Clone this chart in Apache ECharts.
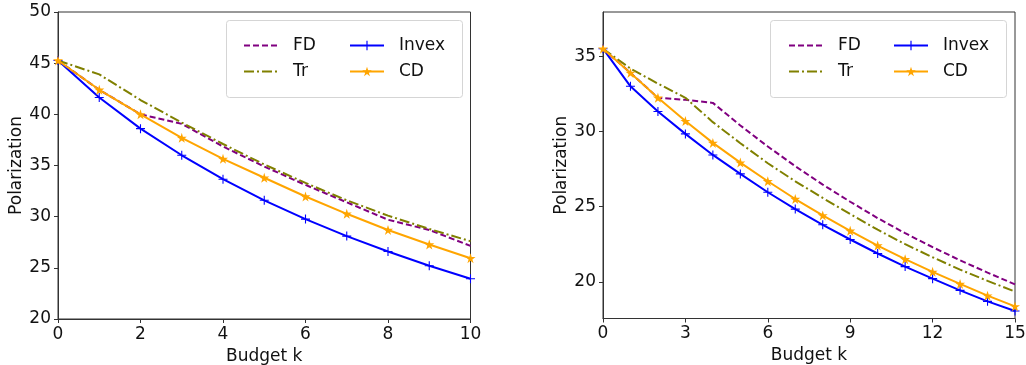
<!DOCTYPE html>
<html><head><meta charset="utf-8">
<script src="https://cdn.jsdelivr.net/npm/echarts@6/dist/echarts.min.js"></script>
<style>html,body{margin:0;padding:0;background:#fff}#c{width:1026px;height:365px}</style>
</head><body><div id="c"></div>
<script>
// Left panel data
const kLeft = [0,1,2,3,4,5,6,7,8,9,10];
const fdLeft = [45.26,42.4,40.0,39.07,36.86,34.9,33.1,31.4,29.7,28.7,27.15];
const trLeft = [45.26,43.9,41.4,39.2,37.1,35.1,33.3,31.6,30.1,28.8,27.6];
const invexLeft = [45.26,41.65,38.6,36.0,33.66,31.6,29.76,28.1,26.6,25.2,23.93];
const cdLeft = [45.26,42.4,40.0,37.7,35.65,33.8,31.97,30.28,28.7,27.28,25.94];
// Right panel data
const kRight = [0,1,2,3,4,5,6,7,8,9,10,11,12,13,14,15];
const fdRight = [35.5,33.89,32.24,32.1,31.9,30.4,29.0,27.69,26.47,25.33,24.24,23.24,22.31,21.44,20.62,19.84];
const trRight = [35.5,34.18,33.18,32.24,30.62,29.22,27.89,26.69,25.58,24.51,23.47,22.51,21.64,20.82,20.07,19.36];
const invexRight = [35.5,33.0,31.33,29.84,28.44,27.18,25.96,24.84,23.8,22.82,21.89,21.02,20.22,19.44,18.71,18.07];
const cdRight = [35.5,33.89,32.24,30.69,29.24,27.93,26.69,25.51,24.42,23.4,22.42,21.51,20.67,19.87,19.09,18.38];
// Ticks
const leftXTicks = {min:0, max:10, interval:2};
const leftYTicks = {min:20, max:50, interval:5};
const rightXTicks = {min:0, max:15, interval:3};
const rightYRange = {min:17.57, max:37.94};
const rightYTickValues = [20,25,30,35];

const FONT = 'DejaVu Sans';
const C = {FD:'#800080', Tr:'#808000', Invex:'#0000ff', CD:'#ffa500'};
const plusPath = 'path://M-0.12,-1H0.12V1H-0.12Z M-1,-0.12H1V0.12H-1Z';
const starPath = 'path://M0,-1 L0.2245,-0.309 L0.951,-0.309 L0.363,0.118 L0.588,0.809 L0,0.382 L-0.588,0.809 L-0.363,0.118 L-0.951,-0.309 L-0.2245,-0.309 Z';
const noMark = 'path://M0,0L0.001,0L0,0.001Z';

function pairs(xs, ys){ return xs.map((x,i)=>[x, ys[i]]); }

function mkSeries(name, xs, ys, idx){
  const base = {name, type:'line', xAxisIndex:idx, yAxisIndex:idx, data:pairs(xs,ys),
    animation:false, silent:true, color:C[name], z: 2};
  if(name==='FD') return Object.assign(base,{symbol:noMark, symbolSize:0.01, showSymbol:false, itemStyle:{color:'rgba(0,0,0,0)'}, lineStyle:{width:2,color:C.FD,type:[6,3]}});
  if(name==='Tr') return Object.assign(base,{symbol:noMark, symbolSize:0.01, showSymbol:false, itemStyle:{color:'rgba(0,0,0,0)'}, lineStyle:{width:2,color:C.Tr,type:[10,3,2,3]}});
  if(name==='Invex') return Object.assign(base,{symbol:plusPath, symbolSize:9, itemStyle:{color:C.Invex}, lineStyle:{width:2,color:C.Invex}, z:3});
  return Object.assign(base,{symbol:starPath, symbolSize:10, itemStyle:{color:C.CD}, lineStyle:{width:2,color:C.CD}, z:4});
}

const axisLineStyle = {show:true, lineStyle:{color:'#333', width:1}};
const tickStyle = {show:true, inside:false, length:4, lineStyle:{color:'#333', width:1}};
const labelStyle = {color:'#111', fontFamily:FONT, fontSize:17, margin:7};
const nameStyle = {color:'#111', fontFamily:FONT, fontSize:17};

function xAxis(idx, t){
  return {type:'value', gridIndex:idx, min:t.min, max:t.max, interval:t.interval,
    axisLine:axisLineStyle, axisTick:tickStyle, axisLabel:labelStyle, splitLine:{show:false},
    name:'Budget k', nameLocation:'middle', nameGap:29, nameTextStyle:nameStyle};
}

function legendPair(left, top, names){
  return {left, top, orient:'vertical', itemWidth:34, itemHeight:12, itemGap:9,
    data:names, selectedMode:false, textStyle:{fontFamily:FONT, fontSize:17, color:'#111', padding:[0,0,0,10]}};
}

const option = {
  backgroundColor:'#fff',
  animation:false,
  grid:[
    {left:58, top:12, width:412.5, height:307, show:true, borderColor:'#333', borderWidth:1, backgroundColor:'transparent', containLabel:false, outerBoundsMode:'none'},
    {left:603, top:12, width:412, height:306.5, show:true, borderColor:'#333', borderWidth:1, backgroundColor:'transparent', containLabel:false, outerBoundsMode:'none'}
  ],
  xAxis:[xAxis(0,leftXTicks), xAxis(1,rightXTicks)],
  yAxis:[
    {type:'value', gridIndex:0, min:leftYTicks.min, max:leftYTicks.max, interval:leftYTicks.interval,
     axisLine:axisLineStyle, axisTick:tickStyle, axisLabel:labelStyle, splitLine:{show:false},
     name:'Polarization', nameLocation:'middle', nameGap:33, nameTextStyle:nameStyle},
    {type:'value', gridIndex:1, min:rightYRange.min, max:rightYRange.max,
     axisLine:axisLineStyle,
     axisTick:Object.assign({}, tickStyle, {customValues:rightYTickValues}),
     axisLabel:Object.assign({}, labelStyle, {customValues:rightYTickValues}), splitLine:{show:false},
     name:'Polarization', nameLocation:'middle', nameGap:33, nameTextStyle:nameStyle}
  ],
  legend:[
    legendPair(238, 32, ['FD','Tr']),
    legendPair(344, 32, ['Invex','CD']),
    legendPair(783, 32, ['FD','Tr']),
    legendPair(888, 32, ['Invex','CD'])
  ],
  graphic:[
    {type:'rect', left:226, top:20, z:0, shape:{width:236, height:77, r:3}, style:{fill:'rgba(255,255,255,0.8)', stroke:'#d5d5d5', lineWidth:1}},
    {type:'rect', left:770, top:20, z:0, shape:{width:236, height:77, r:3}, style:{fill:'rgba(255,255,255,0.8)', stroke:'#d5d5d5', lineWidth:1}}
  ],
  series:[
    mkSeries('FD', kLeft, fdLeft, 0),
    mkSeries('Tr', kLeft, trLeft, 0),
    mkSeries('Invex', kLeft, invexLeft, 0),
    mkSeries('CD', kLeft, cdLeft, 0),
    mkSeries('FD', kRight, fdRight, 1),
    mkSeries('Tr', kRight, trRight, 1),
    mkSeries('Invex', kRight, invexRight, 1),
    mkSeries('CD', kRight, cdRight, 1)
  ]
};
const chart = echarts.init(document.getElementById('c'), null, {renderer:'canvas'});
chart.setOption(option);
</script></body></html>
